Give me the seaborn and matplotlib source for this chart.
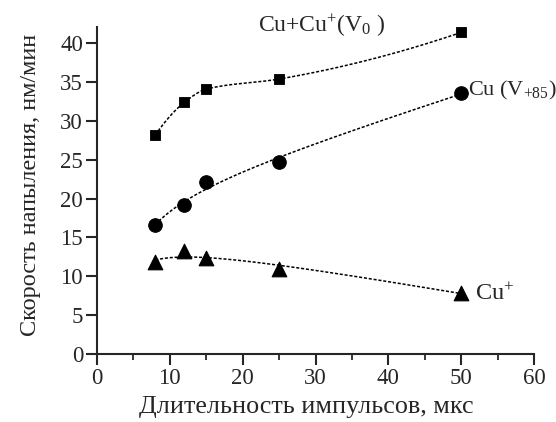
import numpy as np
import pandas as pd
import matplotlib
matplotlib.use("Agg")
import matplotlib.pyplot as plt
import seaborn as sns
from matplotlib.ticker import MultipleLocator

# Data
pulse_us = [8, 12, 15, 25, 50]
cu_total = [28.2, 32.4, 34.1, 35.4, 41.4]   # squares, Cu+Cu+(V0)
cu_neutral = [16.6, 19.2, 22.2, 24.7, 33.6]  # circles, Cu (V+85)
cu_ion = [11.8, 13.2, 12.3, 11.0, 7.9]      # triangles, Cu+

xticks = [0, 10, 20, 30, 40, 50, 60]
yticks = [0, 5, 10, 15, 20, 25, 30, 35, 40]

sns.set_style("ticks")
plt.rcParams["font.family"] = ["Liberation Serif", "DejaVu Serif"]
plt.rcParams["mathtext.fontset"] = "custom"
plt.rcParams["mathtext.rm"] = "Liberation Serif"
plt.rcParams["mathtext.it"] = "Liberation Serif:italic"

fig = plt.figure(figsize=(5.56, 4.22), dpi=100)
ax = fig.add_axes([97/556, 1 - 354/422, (534-97)/556, (354-27)/422])

df = pd.DataFrame({"x": pulse_us, "total": cu_total, "neutral": cu_neutral, "ion": cu_ion})


def pchip(x, y, xs):
    x = np.asarray(x, float); y = np.asarray(y, float)
    h = np.diff(x); d = np.diff(y) / h
    m = np.zeros_like(y)
    for k in range(1, len(x) - 1):
        if d[k-1] * d[k] > 0:
            w1 = 2 * h[k] + h[k-1]; w2 = h[k] + 2 * h[k-1]
            m[k] = (w1 + w2) / (w1 / d[k-1] + w2 / d[k])
    m[0] = ((2 * h[0] + h[1]) * d[0] - h[0] * d[1]) / (h[0] + h[1])
    if np.sign(m[0]) != np.sign(d[0]):
        m[0] = 0
    m[-1] = ((2 * h[-1] + h[-2]) * d[-1] - h[-1] * d[-2]) / (h[-1] + h[-2])
    if np.sign(m[-1]) != np.sign(d[-1]):
        m[-1] = 0
    idx = np.clip(np.searchsorted(x, xs) - 1, 0, len(x) - 2)
    t = (xs - x[idx]) / h[idx]
    h00 = 2*t**3 - 3*t**2 + 1; h10 = t**3 - 2*t**2 + t
    h01 = -2*t**3 + 3*t**2; h11 = t**3 - t**2
    return h00*y[idx] + h10*h[idx]*m[idx] + h01*y[idx+1] + h11*h[idx]*m[idx+1]


xs = np.linspace(min(pulse_us), max(pulse_us), 400)
xa = np.array(pulse_us, float)
A = np.column_stack([np.ones_like(xa), xa, 1 / xa])
As = np.column_stack([np.ones_like(xs), xs, 1 / xs])

trends = {"total": pchip(xa, df["total"].values, xs)}
for col in ["neutral", "ion"]:
    coef, *_ = np.linalg.lstsq(A, df[col].values, rcond=None)
    trends[col] = As @ coef
for col in ["total", "neutral", "ion"]:
    trend = pd.DataFrame({"x": xs, "y": trends[col]})
    sns.lineplot(data=trend, x="x", y="y", ax=ax, color="black",
                 linestyle=(0, (2, 1.2)), linewidth=1.1)

sns.scatterplot(data=df, x="x", y="total", ax=ax, marker="s", s=60, color="black", edgecolor="black", zorder=3)
sns.scatterplot(data=df, x="x", y="neutral", ax=ax, marker="o", s=95, color="black", edgecolor="black", zorder=3)
sns.scatterplot(data=df, x="x", y="ion", ax=ax, marker="^", s=110, color="black", edgecolor="black", zorder=3)

ax.set_xlim(0, 60)
ax.set_ylim(0, 42.1)
ax.set_xticks(xticks)
ax.set_yticks(yticks)
ax.xaxis.set_minor_locator(MultipleLocator(5))
sns.despine(ax=ax)
for s in ["left", "bottom"]:
    ax.spines[s].set_linewidth(1.5)
ax.tick_params(axis="both", which="major", direction="out", length=8, width=1.5, labelsize=16.5, pad=2)
ax.tick_params(axis="x", which="minor", direction="out", length=4, width=1.3)

ax.set_xlabel("Длительность импульсов, мкс", fontsize=18.8)
ax.set_ylabel("Скорость напыления, нм/мин", fontsize=17.5)
ax.xaxis.set_label_coords((306 - 97) / 437, -(396 - 354) / 327)
ax.yaxis.set_label_coords(-(97 - 41) / 437, (354 - 185) / 327)

fig.text(322/556, 1 - 26/422, r"Cu+Cu$^{+}$(V$_{0}$ )", fontsize=17, ha="center", va="center")
ax.annotate(r"Cu (V$_{+85}$)", xy=(50, 33.6), xytext=(5, 2), textcoords="offset points",
            fontsize=16, ha="left", va="center")
ax.annotate(r"Cu$^{+}$", xy=(50, 7.9), xytext=(10, -1), textcoords="offset points",
            fontsize=17.5, ha="left", va="center")

fig.savefig("out.png", dpi=100)
